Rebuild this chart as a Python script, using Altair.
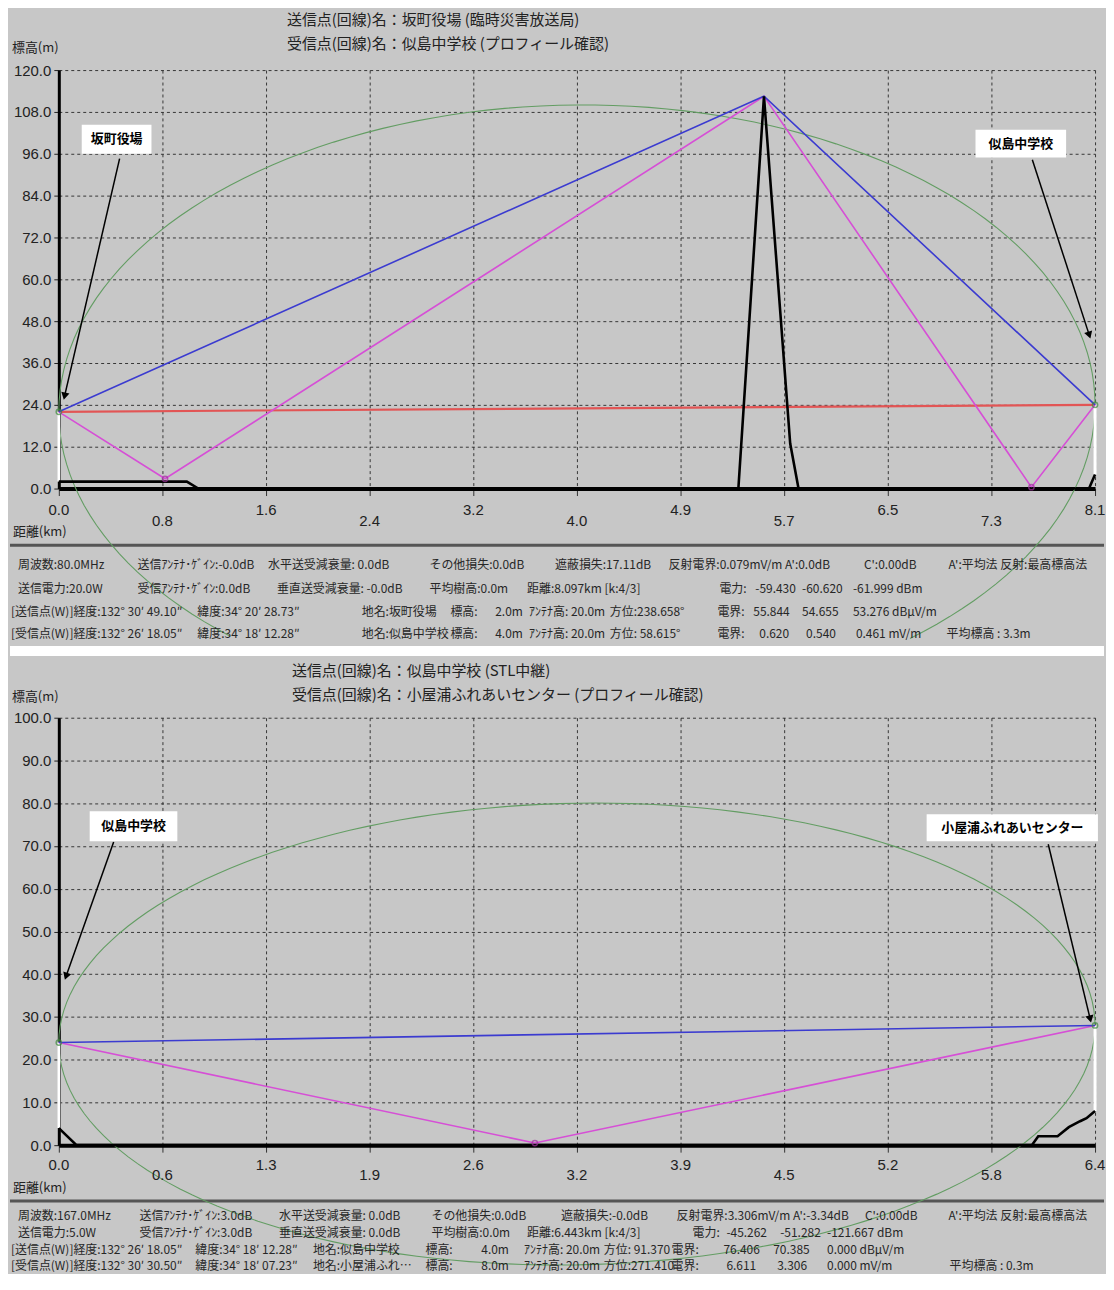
import altair as alt
import pandas as pd

BG = "#c7c7c7"
FONT_JP = "Noto Sans CJK JP"
FONT_NUM = "'Liberation Sans Narrow', 'Liberation Sans', sans-serif"
BLUE = "#3b3bd0"
MAGENTA = "#d64fd6"
RED = "#e25555"
GREEN = "#639d63"

# ---------------- top panel values ----------------
top_title = ["送信点(回線)名：坂町役場 (臨時災害放送局)", "受信点(回線)名：似島中学校 (プロフィール確認)"]
top_dist = 8.097
top_tick_km = [0.0, 0.8097, 1.6194, 2.4291, 3.2388, 4.0485, 4.8582, 5.6679, 6.4776, 7.2873, 8.097]
top_tick_labels = ["0.0", "0.8", "1.6", "2.4", "3.2", "4.0", "4.9", "5.7", "6.5", "7.3", "8.1"]
top_y_ticks = [0, 12, 24, 36, 48, 60, 72, 84, 96, 108, 120]
top_terrain_km = [0.0, 1.0, 1.09, 5.31, 5.51, 5.715, 5.78, 8.05, 8.097]
top_terrain_m = [2.0, 2.0, 0.0, 0.0, 112.5, 12.9, 0.0, 0.0, 4.0]
top_blue_km = [0.0, 5.51, 8.097]
top_blue_m = [22.0, 112.5, 24.0]
top_mag_km = [0.0, 0.83, 5.51, 7.60, 8.097]
top_mag_m = [22.0, 2.8, 112.5, 0.4, 24.0]
top_red_km = [0.0, 8.097]
top_red_m = [22.0, 24.0]
top_end_km = [0.0, 8.097]
top_end_m = [22.0, 24.0]
top_refl_km = [0.83, 7.60]
top_refl_m = [2.8, 0.4]
top_ant_km = [0.0, 8.097]
top_ant_ground = [2.0, 4.0]
top_ant_top = [22.0, 24.0]
top_fresnel = [0.0, 22.0, 8.097, 24.0, 110.0]  # km0, m0, km1, m1, apex
top_ann_labels = ["坂町役場", "似島中学校"]
top_info_text = [
    ["周波数:80.0MHz", "送信ｱﾝﾃﾅ･ｹﾞｲﾝ:-0.0dB", "水平送受減衰量: 0.0dB", "その他損失:0.0dB",
     "遮蔽損失:17.11dB", "反射電界:0.079mV/m A':0.0dB", "C':0.00dB", "A':平均法 反射:最高標高法"],
    ["送信電力:20.0W", "受信ｱﾝﾃﾅ･ｹﾞｲﾝ:0.0dB", "垂直送受減衰量: -0.0dB", "平均樹高:0.0m",
     "距離:8.097km [k:4/3]", "電力:", "-59.430", "-60.620", "-61.999 dBm"],
    ["[送信点(W)]経度:132° 30′ 49.10″", "緯度:34° 20′ 28.73″", "地名:坂町役場", "標高:", "2.0m",
     "ｱﾝﾃﾅ高: 20.0m", "方位:238.658°", "電界:", "55.844", "54.655", "53.276 dBμV/m"],
    ["[受信点(W)]経度:132° 26′ 18.05″", "緯度:34° 18′ 12.28″", "地名:似島中学校", "標高:", "4.0m",
     "ｱﾝﾃﾅ高: 20.0m", "方位: 58.615°", "電界:", "0.620", "0.540", "0.461 mV/m", "平均標高 : 3.3m"],
]

# ---------------- bottom panel values ----------------
bot_title = ["送信点(回線)名：似島中学校 (STL中継)", "受信点(回線)名：小屋浦ふれあいセンター (プロフィール確認)"]
bot_dist = 6.443
bot_tick_km = [0.0, 0.6443, 1.2886, 1.9329, 2.5772, 3.2215, 3.8658, 4.5101, 5.1544, 5.7987, 6.443]
bot_tick_labels = ["0.0", "0.6", "1.3", "1.9", "2.6", "3.2", "3.9", "4.5", "5.2", "5.8", "6.4"]
bot_y_ticks = [0, 10, 20, 30, 40, 50, 60, 70, 80, 90, 100]
bot_terrain_km = [0.0, 0.11, 6.05, 6.09, 6.21, 6.28, 6.35, 6.39, 6.443]
bot_terrain_m = [4.0, 0.0, 0.0, 2.1, 2.1, 4.2, 5.6, 6.3, 8.0]
bot_blue_km = [0.0, 6.443]
bot_blue_m = [24.0, 28.0]
bot_mag_km = [0.0, 2.96, 6.443]
bot_mag_m = [24.0, 0.5, 28.0]
bot_end_km = [0.0, 6.443]
bot_end_m = [24.0, 28.0]
bot_refl_km = [2.96]
bot_refl_m = [0.5]
bot_ant_km = [0.0, 6.443]
bot_ant_ground = [4.0, 8.0]
bot_ant_top = [24.0, 28.0]
bot_fresnel = [0.0, 24.0, 6.443, 28.0, 80.0]
bot_ann_labels = ["似島中学校", "小屋浦ふれあいセンター"]
bot_info_text = [
    ["周波数:167.0MHz", "送信ｱﾝﾃﾅ･ｹﾞｲﾝ:3.0dB", "水平送受減衰量: 0.0dB", "その他損失:0.0dB",
     "遮蔽損失:-0.0dB", "反射電界:3.306mV/m A':-3.34dB", "C':0.00dB", "A':平均法 反射:最高標高法"],
    ["送信電力:5.0W", "受信ｱﾝﾃﾅ･ｹﾞｲﾝ:3.0dB", "垂直送受減衰量: 0.0dB", "平均樹高:0.0m",
     "距離:6.443km [k:4/3]", "電力:", "-45.262", "-51.282", "-121.667 dBm"],
    ["[送信点(W)]経度:132° 26′ 18.05″", "緯度:34° 18′ 12.28″", "地名:似島中学校", "標高:", "4.0m",
     "ｱﾝﾃﾅ高: 20.0m", "方位: 91.370", "電界:", "76.406", "70.385", "0.000 dBμV/m"],
    ["[受信点(W)]経度:132° 30′ 30.50″", "緯度:34° 18′ 07.23″", "地名:小屋浦ふれ…", "標高:", "8.0m",
     "ｱﾝﾃﾅ高: 20.0m", "方位:271.410", "電界:", "6.611", "3.306", "0.000 mV/m", "平均標高 : 0.3m"],
]

# ---------------- layout (positions / styles) ----------------
top_layout = dict(
    W=1040, H=420, ymax=120, b_top=-60, b_bot=578, gap=None, sep_y=477, ell_min=-44,
    title_x=229, title_y=[-50, -26], ytitle_y=-22, xtitle_y=464, lab_y=[442, 453],
    info_y=[497, 521, 544, 566],
    info_x=[[-41, 79, 210, 372, 498, 612, 808, 893],
            [-41, 79, 219, 372, 470, 663, 699, 746, 797],
            [-48, 139, 304, 393, 438, 472, 553, 661, 697, 746, 797],
            [-48, 139, 304, 393, 438, 472, 553, 661, 703, 750, 800, 891]],
    box_km=[0.179, 7.163], box_km2=[0.724, 7.871], box_m=[104.3, 102.9], box_m2=[96.0, 94.9],
    txt_km=[0.452, 7.517], txt_m=[100.2, 98.9],
    arr_km=[0.475, 7.607], arr_m=[94.6, 94.3], tip_km=[0.045, 8.052], tip_m=[26.5, 44.0],
    ang=[193, 162],
)
bot_layout = dict(
    W=1040, H=429, ymax=100, b_top=-72, b_bot=556, gap=[-72, -62], sep_y=485, ell_min=-40,
    title_x=234, title_y=[-47, -23], ytitle_y=-21, xtitle_y=472, lab_y=[449, 459],
    info_y=[500, 517, 534, 550],
    info_x=[[-41, 81, 221, 374, 504, 620, 809, 893],
            [-41, 81, 221, 374, 470, 636, 670, 724, 771],
            [-48, 137, 255, 368, 424, 467, 547, 615, 667, 717, 771],
            [-48, 137, 255, 368, 424, 467, 547, 615, 670, 721, 771, 894]],
    box_km=[0.192, 5.396], box_km2=[0.737, 6.461], box_m=[78.1, 77.4], box_m2=[71.1, 71.1],
    txt_km=[0.465, 5.929], txt_m=[74.6, 74.3],
    arr_km=[0.341, 6.152], arr_m=[70.9, 70.4], tip_km=[0.045, 6.413], tip_m=[39.5, 29.5],
    ang=[199, 167],
)


def panel(d, L):
    one = pd.DataFrame({"a": [0]})
    xs = alt.Scale(domain=[0, d["dist"]], nice=False, zero=False)
    ys = alt.Scale(domain=[0, L["ymax"]], nice=False, zero=False)
    grid = dict(grid=True, gridColor="#1e1e1e", gridDash=[3, 3], gridWidth=1, gridOpacity=0.85)
    xaxis = alt.Axis(values=d["tick_km"], labels=False, title=None, ticks=True, tickSize=7,
                     tickColor="#333333", domainColor="#000000", domainWidth=4, **grid)
    yaxis = alt.Axis(values=d["yticks"], format=".1f", title=None, ticks=True, tickSize=5,
                     tickColor="#222222", domainColor="#000000", domainWidth=3,
                     labelFont=FONT_NUM, labelFontSize=15, labelColor="#222222",
                     labelPadding=3, **grid)
    X = alt.X("km:Q", scale=xs, axis=xaxis)
    Y = alt.Y("m:Q", scale=ys, axis=yaxis)
    PX = alt.X("px:Q", scale=None, axis=None)
    PY = alt.Y("py:Q", scale=None, axis=None)

    layers = []
    # invisible rect fixing the panel extent
    layers.append(alt.Chart(one).mark_rect(opacity=0).encode(
        x=alt.value(-49), x2=alt.value(1049), y=alt.value(L["b_top"]), y2=alt.value(L["b_bot"])))
    if L["gap"]:
        layers.append(alt.Chart(one).mark_rect(color="white").encode(
            x=alt.value(-49), x2=alt.value(1049), y=alt.value(L["gap"][0]), y2=alt.value(L["gap"][1])))
    layers.append(alt.Chart(one).mark_rule(color="#555555", strokeWidth=3).encode(
        x=alt.value(-49), x2=alt.value(1049), y=alt.value(L["sep_y"])))

    # Fresnel ellipse
    km0, m0, km1, m1, apex = d["fresnel"]
    xc, a = (km0 + km1) / 2, (km1 - km0) / 2
    yc = (m0 + m1) / 2
    sl = (m1 - m0) / (km1 - km0)
    h = apex - yc
    layers.append(
        alt.Chart(alt.sequence(270, 632, 2, as_="deg"))
        .transform_calculate(
            km=f"{xc} + {a}*cos(datum.deg*PI/180)",
            m=f"{yc} + {sl * a}*cos(datum.deg*PI/180) + {h}*sin(datum.deg*PI/180)")
        .transform_filter(f"datum.m >= {L['ell_min']}")
        .mark_line(color=GREEN, strokeWidth=1.1)
        .encode(x=X, y=Y, order="deg:Q"))

    # antennas
    layers.append(alt.Chart(pd.DataFrame({"km": d["ant_km"], "m": d["ant_ground"], "m2": d["ant_top"]}))
                  .mark_rule(color="white", strokeWidth=3).encode(x=X, y=Y, y2="m2:Q"))
    if d.get("red_km"):
        layers.append(alt.Chart(pd.DataFrame({"km": d["red_km"], "m": d["red_m"]}))
                      .mark_line(color=RED, strokeWidth=2.2).encode(x=X, y=Y))
    layers.append(alt.Chart(pd.DataFrame({"km": d["mag_km"], "m": d["mag_m"]}))
                  .mark_line(color=MAGENTA, strokeWidth=1.6).encode(x=X, y=Y))
    layers.append(alt.Chart(pd.DataFrame({"km": d["blue_km"], "m": d["blue_m"]}))
                  .mark_line(color=BLUE, strokeWidth=1.6).encode(x=X, y=Y))
    layers.append(alt.Chart(pd.DataFrame({"km": d["ter_km"], "m": d["ter_m"]}))
                  .mark_line(color="#000000", strokeWidth=2.6).encode(x=X, y=Y))
    layers.append(alt.Chart(pd.DataFrame({"km": d["end_km"], "m": d["end_m"]}))
                  .mark_point(shape="circle", filled=False, size=28, strokeWidth=1.5, color="#3f8a3f")
                  .encode(x=X, y=Y))
    layers.append(alt.Chart(pd.DataFrame({"km": d["refl_km"], "m": d["refl_m"]}))
                  .mark_point(shape="circle", filled=False, size=28, strokeWidth=1.5, color="#a0309f")
                  .encode(x=X, y=Y))

    # annotations
    ann = pd.DataFrame({"label": d["ann"], "km": L["box_km"], "km2": L["box_km2"],
                        "m": L["box_m"], "m2": L["box_m2"]})
    layers.append(alt.Chart(ann).mark_rect(color="white").encode(x=X, x2="km2:Q", y=Y, y2="m2:Q"))
    layers.append(alt.Chart(pd.DataFrame({"label": d["ann"], "km": L["txt_km"], "m": L["txt_m"]}))
                  .mark_text(font=FONT_JP, fontSize=13, fontWeight="bold", color="#000000")
                  .encode(x=X, y=Y, text="label:N"))
    arr = pd.DataFrame({"km": L["arr_km"], "m": L["arr_m"], "km2": L["tip_km"], "m2": L["tip_m"],
                        "ang": L["ang"]})
    layers.append(alt.Chart(arr).mark_rule(color="#000000", strokeWidth=1.5)
                  .encode(x=X, x2="km2:Q", y=Y, y2="m2:Q"))
    tips = pd.DataFrame({"km": L["tip_km"], "m": L["tip_m"], "ang": L["ang"]})
    layers.append(alt.Chart(tips).mark_point(shape="triangle-up", filled=True, size=70,
                                             color="#000000", opacity=1)
                  .encode(x=X, y=Y, angle=alt.Angle("ang:Q", scale=None)))

    # staggered x tick labels
    ticks = pd.DataFrame({"km": d["tick_km"], "lab": d["tick_labels"]})
    ev = ticks.iloc[0::2]
    od = ticks.iloc[1::2]
    for part, yy in ((ev, L["lab_y"][0]), (od, L["lab_y"][1])):
        layers.append(alt.Chart(part).mark_text(font=FONT_NUM, fontSize=15, color="#222222",
                                                baseline="middle")
                      .encode(x=X, y=alt.value(yy), text="lab:N"))

    # titles and axis titles
    tt = pd.DataFrame({"t": d["title"], "px": [L["title_x"]] * 2, "py": L["title_y"]})
    layers.append(alt.Chart(tt).mark_text(font=FONT_JP, fontSize=15, color="#222222",
                                          align="left", baseline="middle")
                  .encode(x=PX, y=PY, text="t:N"))
    at = pd.DataFrame({"t": ["標高(m)", "距離(km)"], "px": [-47, -46],
                       "py": [L["ytitle_y"], L["xtitle_y"]]})
    layers.append(alt.Chart(at).mark_text(font=FONT_JP, fontSize=13, color="#222222",
                                          align="left", baseline="middle")
                  .encode(x=PX, y=PY, text="t:N"))

    # information block
    rows = []
    for r, (texts, xs_) in enumerate(zip(d["info"], L["info_x"])):
        for t, x in zip(texts, xs_):
            rows.append({"t": t, "px": x, "py": L["info_y"][r]})
    layers.append(alt.Chart(pd.DataFrame(rows)).mark_text(font=FONT_JP, fontSize=12, color="#262626",
                                                          align="left", baseline="middle")
                  .encode(x=PX, y=PY, text="t:N"))

    return alt.layer(*layers).properties(width=L["W"], height=L["H"])


top_data = dict(dist=top_dist, tick_km=top_tick_km, tick_labels=top_tick_labels, yticks=top_y_ticks,
                ter_km=top_terrain_km, ter_m=top_terrain_m, blue_km=top_blue_km, blue_m=top_blue_m,
                mag_km=top_mag_km, mag_m=top_mag_m, red_km=top_red_km, red_m=top_red_m,
                end_km=top_end_km, end_m=top_end_m, refl_km=top_refl_km, refl_m=top_refl_m,
                ant_km=top_ant_km, ant_ground=top_ant_ground, ant_top=top_ant_top,
                fresnel=top_fresnel, ann=top_ann_labels, title=top_title, info=top_info_text)
bot_data = dict(dist=bot_dist, tick_km=bot_tick_km, tick_labels=bot_tick_labels, yticks=bot_y_ticks,
                ter_km=bot_terrain_km, ter_m=bot_terrain_m, blue_km=bot_blue_km, blue_m=bot_blue_m,
                mag_km=bot_mag_km, mag_m=bot_mag_m,
                end_km=bot_end_km, end_m=bot_end_m, refl_km=bot_refl_km, refl_m=bot_refl_m,
                ant_km=bot_ant_km, ant_ground=bot_ant_ground, ant_top=bot_ant_top,
                fresnel=bot_fresnel, ann=bot_ann_labels, title=bot_title, info=bot_info_text)

chart = (
    alt.vconcat(panel(top_data, top_layout), panel(bot_data, bot_layout), spacing=0)
    .properties(background=BG, padding=0)
    .configure_view(stroke=None)
)
chart.save("out.html", embed_options={"renderer": "svg", "actions": False})
